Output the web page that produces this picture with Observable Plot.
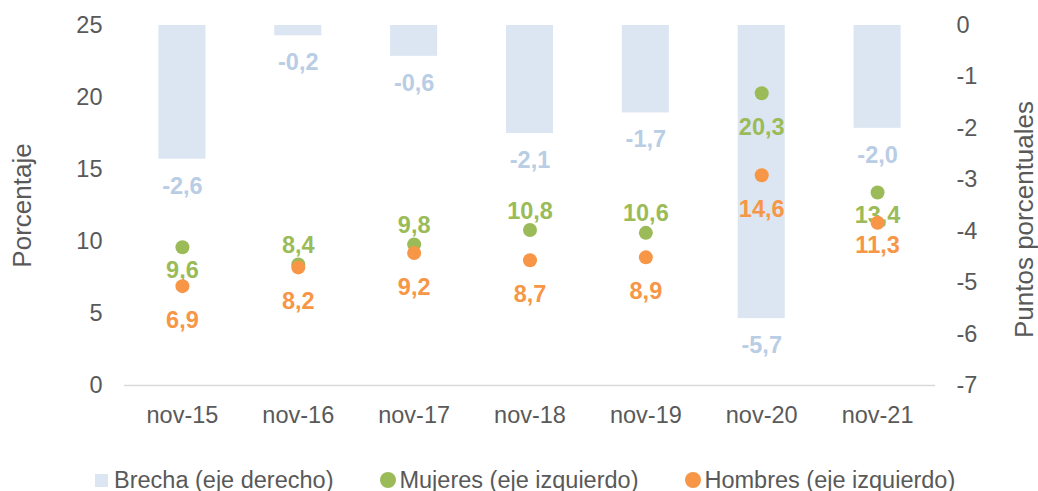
<!DOCTYPE html>
<html>
<head>
<meta charset="utf-8">
<script src="https://cdn.jsdelivr.net/npm/d3@7"></script>
<script src="https://cdn.jsdelivr.net/npm/@observablehq/plot@0.6"></script>
<style>
  body { margin: 0; background: #fff; }
  #wrap { position: relative; width: 1038px; height: 491px; font-family: "Liberation Sans", Arial, sans-serif; }
  #legend { position: absolute; left: 95px; top: 466px; display: flex; align-items: center; gap: 47px;
            font-size: 23.5px; line-height: 28px; color: #595959; white-space: nowrap; }
  .item { display: flex; align-items: center; }
  .sq { width: 13px; height: 13px; margin-right: 6px; }
  .ci { width: 16px; height: 16px; border-radius: 50%; margin-right: 3px; }
</style>
</head>
<body>
<div id="wrap">
  <div id="chart"></div>
  <div id="legend"></div>
</div>
<script>
const months = ["nov-15", "nov-16", "nov-17", "nov-18", "nov-19", "nov-20", "nov-21"];
const brecha = [-2.6, -0.2, -0.6, -2.1, -1.7, -5.7, -2.0];
const mujeres = [9.6, 8.4, 9.8, 10.8, 10.6, 20.3, 13.4];
const hombres = [6.9, 8.2, 9.2, 8.7, 8.9, 14.6, 11.3];
const leftTicks = [0, 5, 10, 15, 20, 25];
const rightTicks = [0, -1, -2, -3, -4, -5, -6, -7];
const seriesNames = ["Brecha (eje derecho)", "Mujeres (eje izquierdo)", "Hombres (eje izquierdo)"];

const colors = { bar: "#dce6f2", barLabel: "#b9cde5", mujeres: "#9bbb59", hombres: "#f79646", text: "#595959" };

const leftMax = 25, rightMin = -7;
const toLeft = v => leftMax - (v / rightMin) * leftMax;
const fromLeft = d => Math.round((leftMax - d) / leftMax * rightMin);
const fmt = v => v.toFixed(1).replace(".", ",");

const data = months.map((m, i) => ({ month: m, brecha: brecha[i], mujeres: mujeres[i], hombres: hombres[i] }));

// label placement (Excel-like manual placement)
const mujeresAbove = new Set(["nov-16", "nov-17", "nov-18", "nov-19"]);
const mujeresFar = new Set(["nov-20"]);
const hombresNear = new Set(["nov-21"]);
const offsets = { above: -19, near: 23, far: 34 };
const placeM = d => mujeresAbove.has(d.month) ? "above" : mujeresFar.has(d.month) ? "far" : "near";
const placeH = d => hombresNear.has(d.month) ? "near" : "far";

function labels(key, color, place) {
  return Object.keys(offsets).map(p =>
    Plot.text(data.filter(d => place(d) === p), {
      x: "month", y: key, text: d => fmt(d[key]), dy: offsets[p],
      fill: color, fontWeight: "bold", fontSize: 23.5
    })
  );
}

const chart = Plot.plot({
  width: 1038,
  height: 460,
  marginLeft: 124,
  marginRight: 103,
  marginTop: 25,
  marginBottom: 75,
  x: { domain: months, paddingInner: 0.594, paddingOuter: 0.297, round: false },
  y: { domain: [0, 25] },
  style: { fontFamily: '"Liberation Sans", Arial, sans-serif', fontSize: "23.5px", color: colors.text, background: "#fff" },
  marks: [
    Plot.barY(data, { x: "month", y1: () => toLeft(0), y2: d => toLeft(d.brecha), fill: colors.bar }),
    Plot.ruleY([0], { stroke: "#d9d9d9", strokeWidth: 1.5 }),
    Plot.text(data, { x: "month", y: d => toLeft(d.brecha), text: d => fmt(d.brecha), dy: 27,
      fill: colors.barLabel, fontWeight: "bold", fontSize: 23.5 }),
    Plot.axisX({ tickSize: 0, tickPadding: 21, label: null }),
    Plot.axisY({ anchor: "left", ticks: leftTicks, tickSize: 0, tickPadding: 22, label: null }),
    Plot.axisY({ anchor: "right", ticks: rightTicks.map(toLeft), tickFormat: d => String(fromLeft(d)),
      tickSize: 0, tickPadding: 21, label: null }),
    Plot.text(["Porcentaje"], { text: d => d, frameAnchor: "left", textAnchor: "middle", rotate: -90, dx: -102, fontSize: 26, fill: colors.text }),
    Plot.text(["Puntos porcentuales"], { text: d => d, frameAnchor: "right", textAnchor: "middle", rotate: -90, dx: 89, dy: 14, fontSize: 26, fill: colors.text }),
    Plot.dot(data, { x: "month", y: "mujeres", r: 7, fill: colors.mujeres }),
    ...labels("mujeres", colors.mujeres, placeM),
    Plot.dot(data, { x: "month", y: "hombres", r: 7, fill: colors.hombres }),
    ...labels("hombres", colors.hombres, placeH)
  ]
});
document.getElementById("chart").appendChild(chart);

const legend = document.getElementById("legend");
const swatches = [
  { cls: "sq", color: colors.bar },
  { cls: "ci", color: colors.mujeres },
  { cls: "ci", color: colors.hombres }
];
seriesNames.forEach((name, i) => {
  const item = document.createElement("div");
  item.className = "item";
  const sw = document.createElement("span");
  sw.className = swatches[i].cls;
  sw.style.background = swatches[i].color;
  const t = document.createElement("span");
  t.textContent = name;
  item.appendChild(sw);
  item.appendChild(t);
  legend.appendChild(item);
});
</script>
</body>
</html>
